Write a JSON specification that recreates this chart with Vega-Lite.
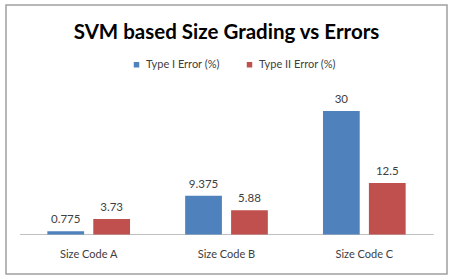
{
  "$schema": "https://vega.github.io/schema/vega-lite/v6.json",
  "autosize": "none",
  "width": 441,
  "height": 269,
  "padding": {"left": 6, "top": 5, "right": 4, "bottom": 2},
  "background": "white",
  "config": {
    "view": {"stroke": "#A0A0A0", "strokeWidth": 1.5},
    "font": "Lato"
  },
  "title": {
    "text": "SVM based Size Grading vs Errors",
    "fontSize": 20.5,
    "font": "Lato",
    "fontWeight": "bold",
    "color": "#000000",
    "anchor": "middle",
    "offset": -38
  },
  "datasets": {
    "bars": [
      {"size": "Size Code A", "series": "Type I Error (%)", "value": 0.775, "label": "0.775"},
      {"size": "Size Code A", "series": "Type II Error (%)", "value": 3.73, "label": "3.73"},
      {"size": "Size  Code B", "series": "Type I Error (%)", "value": 9.375, "label": "9.375"},
      {"size": "Size  Code B", "series": "Type II Error (%)", "value": 5.88, "label": "5.88"},
      {"size": "Size Code C", "series": "Type I Error (%)", "value": 30, "label": "30"},
      {"size": "Size Code C", "series": "Type II Error (%)", "value": 12.5, "label": "12.5"}
    ],
    "base": [
      {"from": "Size Code A", "to": "Size Code C", "v": 0}
    ]
  },
  "encoding": {
    "x": {
      "field": "size",
      "type": "nominal",
      "scale": {"domain": ["Size Code A", "Size  Code B", "Size Code C"], "paddingInner": 0.4, "paddingOuter": 0.3},
      "axis": {
        "title": null,
        "orient": "bottom",
        "offset": -39.5,
        "domain": false,
        "ticks": false,
        "labelAngle": 0,
        "labelFontSize": 11,
        "labelFont": "Lato",
        "labelColor": "#404040",
        "labelPadding": 14
      }
    },
    "y": {
      "field": "value",
      "type": "quantitative",
      "scale": {"domain": [-9.59, 55.7], "nice": false, "zero": false},
      "axis": null
    }
  },
  "layer": [
    {
      "data": {"name": "base"},
      "mark": {"type": "rule", "color": "#BFBFBF", "strokeWidth": 1},
      "encoding": {
        "x": {"field": "from", "type": "nominal", "bandPosition": -0.33},
        "x2": {"field": "to", "bandPosition": 1.34},
        "y": {"field": "v", "type": "quantitative"}
      }
    },
    {
      "data": {"name": "bars"},
      "mark": {"type": "bar"},
      "encoding": {
        "xOffset": {"field": "series", "type": "nominal", "scale": {"paddingInner": 0.2, "paddingOuter": 0}},
        "y2": {"datum": 0},
        "color": {
          "field": "series",
          "type": "nominal",
          "scale": {"domain": ["Type I Error (%)", "Type II Error (%)"], "range": ["#4F81BD", "#C0504D"]},
          "legend": {
            "orient": "none",
            "legendX": 125,
            "legendY": 54,
            "direction": "horizontal",
            "title": null,
            "symbolType": "square",
            "symbolSize": 30,
            "symbolStrokeWidth": 0,
            "labelFontSize": 11,
            "labelFont": "Lato",
            "labelColor": "#404040",
            "labelOffset": 4,
            "columnPadding": 24
          }
        }
      }
    },
    {
      "data": {"name": "bars"},
      "mark": {"type": "text", "baseline": "bottom", "dy": -6, "fontSize": 11.5, "font": "Lato", "color": "#404040"},
      "encoding": {
        "xOffset": {"field": "series", "type": "nominal"},
        "text": {"field": "label", "type": "nominal"}
      }
    }
  ]
}
